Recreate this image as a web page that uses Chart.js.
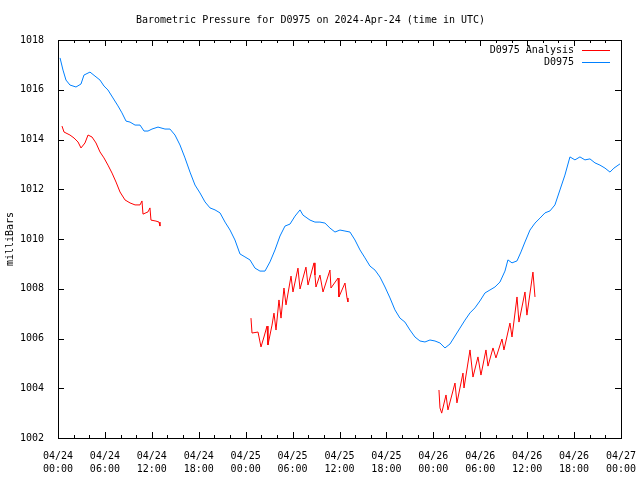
<!DOCTYPE html>
<html>
<head>
<meta charset="utf-8">
<script src="https://cdn.jsdelivr.net/npm/chart.js@4.4.1/dist/chart.umd.min.js"></script>
<style>
  body { margin: 0; background: #fff; }
  canvas { display: block; }
</style>
</head>
<body>
<canvas id="grafico" width="640" height="480"></canvas>
<script>
// tick labels, one per 6 hours from 04/24 00:00
const dateLabels = ['04/24','04/24','04/24','04/24','04/25','04/25','04/25','04/25','04/26','04/26','04/26','04/26','04/27'];
const timeLabels = ['00:00','06:00','12:00','18:00','00:00','06:00','12:00','18:00','00:00','06:00','12:00','18:00','00:00'];

// D0975 observed (hours since 04/24 00:00 UTC, milliBars)
const obsHours = [0.26,0.64,1.02,1.53,2.3,2.94,3.32,4.09,4.73,5.37,5.88,6.39,7.03,7.67,8.18,8.7,9.21,9.85,10.49,11.0,11.51,12.02,12.79,13.68,14.32,14.96,15.6,16.24,16.88,17.52,18.16,18.8,19.44,20.08,20.72,21.36,22.0,22.63,23.27,23.91,24.55,25.19,25.83,26.47,27.11,27.75,28.39,29.03,29.67,30.31,30.95,31.33,32.23,32.86,33.5,34.14,34.78,35.42,36.06,36.7,37.34,37.98,38.62,39.26,39.9,40.54,41.18,41.82,42.46,43.09,43.73,44.37,45.01,45.65,46.29,46.93,47.57,48.21,48.85,49.49,50.13,50.77,51.41,52.05,52.69,53.32,53.96,54.6,55.24,55.88,56.52,57.16,57.54,58.06,58.7,59.21,59.72,60.36,61.0,61.64,62.28,62.92,63.55,64.19,64.83,65.47,66.11,66.75,67.39,68.03,68.67,69.31,69.95,70.59,71.1,71.87];
const obsValues = [1017.28,1016.79,1016.39,1016.19,1016.11,1016.23,1016.59,1016.71,1016.55,1016.39,1016.15,1015.99,1015.67,1015.35,1015.07,1014.74,1014.7,1014.58,1014.58,1014.34,1014.34,1014.42,1014.5,1014.42,1014.42,1014.18,1013.78,1013.26,1012.69,1012.17,1011.85,1011.49,1011.25,1011.17,1011.05,1010.68,1010.36,1009.96,1009.4,1009.28,1009.16,1008.83,1008.71,1008.71,1009.08,1009.56,1010.12,1010.52,1010.6,1010.92,1011.17,1010.96,1010.76,1010.68,1010.68,1010.64,1010.44,1010.28,1010.36,1010.32,1010.28,1009.96,1009.56,1009.24,1008.91,1008.75,1008.47,1008.07,1007.63,1007.15,1006.82,1006.66,1006.34,1006.06,1005.9,1005.86,1005.94,1005.9,1005.82,1005.62,1005.78,1006.1,1006.42,1006.74,1007.03,1007.23,1007.51,1007.83,1007.95,1008.07,1008.27,1008.71,1009.16,1009.04,1009.12,1009.48,1009.88,1010.36,1010.64,1010.84,1011.05,1011.13,1011.37,1011.97,1012.57,1013.3,1013.18,1013.3,1013.18,1013.22,1013.06,1012.97,1012.85,1012.69,1012.85,1013.02];

// D0975 Analysis, three runs
const anaHours1 = [0.51,0.77,1.53,2.05,2.56,2.94,3.45,3.84,4.35,4.86,5.37,5.88,6.39,6.91,7.42,7.93,8.57,9.21,9.85,10.49,10.74,10.87,11.51,11.76,11.89,12.53,12.92,13.04];
const anaValues1 = [1014.54,1014.3,1014.18,1014.06,1013.9,1013.66,1013.86,1014.18,1014.1,1013.86,1013.5,1013.26,1012.97,1012.65,1012.29,1011.89,1011.57,1011.45,1011.37,1011.37,1011.53,1011.0,1011.09,1011.25,1010.76,1010.72,1010.68,1010.52];
const anaHours2 = [24.68,24.81,25.58,25.96,26.34,26.73,26.85,27.37,27.62,27.88,28.26,28.52,28.9,29.16,29.8,30.05,30.69,30.95,31.71,31.97,32.74,32.86,32.99,33.5,33.89,34.78,34.91,35.81,35.93,36.7,36.96,37.08];
const anaValues2 = [1006.82,1006.22,1006.26,1005.66,1006.06,1006.5,1005.74,1006.54,1007.02,1006.34,1007.55,1006.82,1008.03,1007.35,1008.51,1007.87,1008.83,1007.99,1008.87,1008.15,1009.04,1008.55,1008.07,1008.55,1007.87,1008.75,1008.03,1008.43,1007.67,1008.23,1007.63,1007.47];
const anaHours3 = [48.72,48.85,49.07,49.62,49.87,50.77,51.02,51.79,51.92,52.69,53.07,53.71,54.09,54.73,54.99,55.63,56.01,56.78,57.03,57.8,58.06,58.7,58.95,59.72,59.97,60.74,61.0];
const anaValues3 = [1003.93,1003.21,1003.0,1003.73,1003.13,1004.21,1003.41,1004.61,1004.01,1005.54,1004.45,1005.26,1004.53,1005.54,1004.89,1005.62,1005.22,1005.98,1005.54,1006.62,1006.06,1007.67,1006.66,1007.87,1006.94,1008.67,1007.67];

const RED = '#ff0000';
const BLUE = '#0080ff';
const FONT = 'DejaVu Sans Mono';

const pares = (hs, vs) => hs.map((h, i) => ({ x: h, y: vs[i] }));
const analysis = [
    ...pares(anaHours1, anaValues1), { x: 18, y: null },
    ...pares(anaHours2, anaValues2), { x: 42, y: null },
    ...pares(anaHours3, anaValues3)
];

// marco, ticks hacia dentro y leyenda al estilo gnuplot
const marco = {
    id: 'marco',
    afterDraw(chart) {
        const { ctx, chartArea: a, scales } = chart;
        const xs = scales.x, ys = scales.y;
        ctx.save();
        ctx.strokeStyle = '#000';
        ctx.lineWidth = 1;
        ctx.beginPath();
        for (let h = 0; h <= 72; h += 2) {
            const px = Math.round(xs.getPixelForValue(h)) + 0.5;
            const len = h % 6 === 0 ? 6 : 3;
            ctx.moveTo(px, a.bottom); ctx.lineTo(px, a.bottom - len);
            ctx.moveTo(px, a.top); ctx.lineTo(px, a.top + len);
        }
        for (let v = 1002; v <= 1018; v += 2) {
            const py = Math.round(ys.getPixelForValue(v)) + 0.5;
            ctx.moveTo(a.left, py); ctx.lineTo(a.left + 6, py);
            ctx.moveTo(a.right, py); ctx.lineTo(a.right - 6, py);
        }
        ctx.stroke();
        ctx.strokeRect(Math.round(a.left) + 0.5, Math.round(a.top) + 0.5, Math.round(a.width), Math.round(a.height));

        // leyenda
        ctx.font = '10px "' + FONT + '"';
        ctx.fillStyle = '#000';
        ctx.textAlign = 'right';
        ctx.textBaseline = 'middle';
        const items = [['D0975 Analysis', RED], ['D0975', BLUE]];
        items.forEach(([txt, col], i) => {
            const y = 50 + i * 12;
            ctx.fillText(txt, 574, y);
            ctx.strokeStyle = col;
            ctx.beginPath();
            ctx.moveTo(582, y + 0.5); ctx.lineTo(610, y + 0.5);
            ctx.stroke();
        });
        ctx.restore();
    }
};

const ctx = document.getElementById('grafico').getContext('2d');
new Chart(ctx, {
    type: 'line',
    data: {
        datasets: [
            { label: 'D0975 Analysis', data: analysis, borderColor: RED, borderWidth: 1, pointRadius: 0, spanGaps: false, tension: 0 },
            { label: 'D0975', data: pares(obsHours, obsValues), borderColor: BLUE, borderWidth: 1, pointRadius: 0, tension: 0 }
        ]
    },
    options: {
        responsive: false,
        animation: false,
        layout: { padding: { left: 0, right: 19, top: 0, bottom: 0 } },
        plugins: {
            legend: { display: false },
            tooltip: { enabled: false },
            title: {
                display: true,
                text: 'Barometric Pressure for D0975 on 2024-Apr-24 (time in UTC)',
                color: '#000',
                font: { family: FONT, size: 10, weight: 'normal', lineHeight: 1.2 },
                padding: { top: 14, bottom: 14 }
            }
        },
        scales: {
            x: {
                type: 'linear',
                min: 0, max: 72,
                grid: { display: false },
                border: { display: false },
                afterFit: s => { s.height = 42; s.paddingLeft = 0; s.paddingRight = 0; },
                afterBuildTicks: s => { s.ticks = dateLabels.map((d, i) => ({ value: i * 6 })); },
                ticks: {
                    color: '#000',
                    padding: 4,
                    maxRotation: 0,
                    autoSkip: false,
                    font: { family: FONT, size: 10, lineHeight: 1.3 },
                    callback: v => [dateLabels[v / 6], timeLabels[v / 6]]
                }
            },
            y: {
                min: 1002, max: 1018,
                grid: { display: false },
                border: { display: false },
                afterFit: s => { s.width = 58; s.paddingTop = 0; s.paddingBottom = 0; },
                title: {
                    display: true,
                    text: 'milliBars',
                    color: '#000',
                    font: { family: FONT, size: 10 }
                },
                ticks: {
                    color: '#000',
                    stepSize: 2,
                    padding: 6,
                    font: { family: FONT, size: 10 },
                    callback: v => String(v)
                }
            }
        }
    },
    plugins: [marco]
});
</script>
</body>
</html>
